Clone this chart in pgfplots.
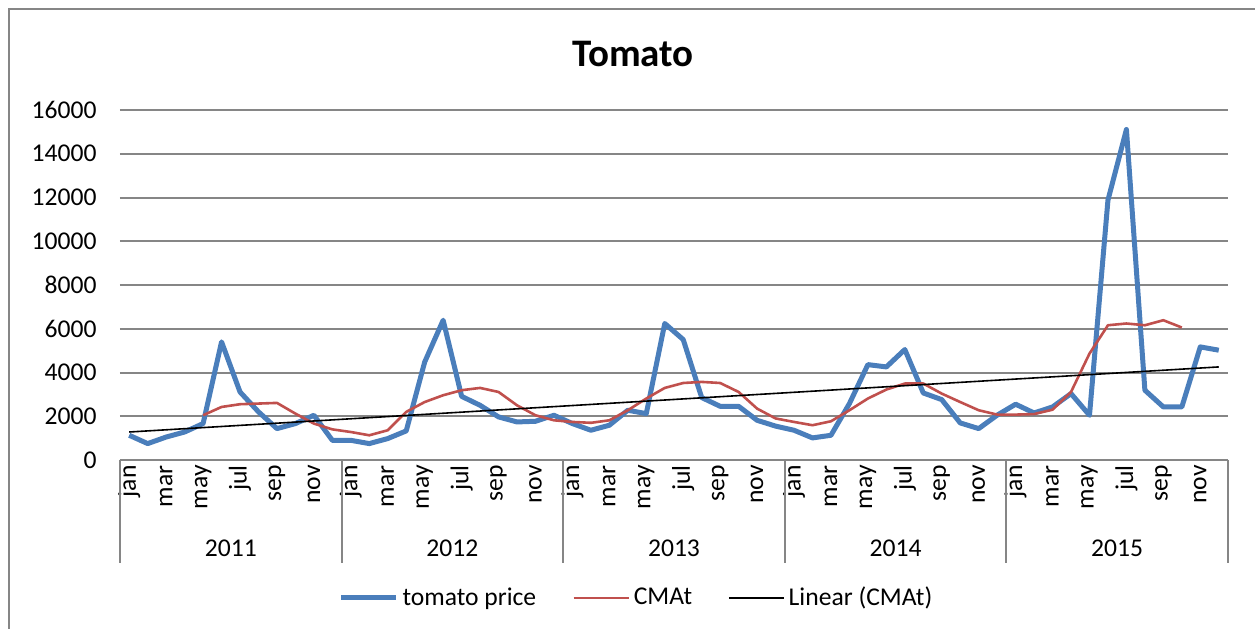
\documentclass[border=0pt]{standalone}
\usepackage{pgfplots}
\pgfplotsset{compat=1.18}
\usepackage{fontspec}
\setmainfont{Carlito}
\definecolor{tblue}{HTML}{4A7EBB}
\definecolor{tred}{HTML}{C0504D}
\definecolor{tgrid}{HTML}{868686}
\newcommand{\axfont}{\fontsize{12.8pt}{15pt}\selectfont}
\begin{document}
\begin{tikzpicture}
\useasboundingbox (0,0) rectangle (627.5pt,314pt);
\draw[tgrid, line width=1pt] (4.5pt,-2pt) -- (4.5pt,309.5pt) -- (630pt,309.5pt);
\node[anchor=base, font=\fontsize{19.5pt}{22pt}\selectfont\bfseries] at (316.5pt,280.6pt) {Tomato};
\begin{axis}[
  at={(60pt,84pt)}, anchor=south west,
  width=554pt, height=175pt, scale only axis,
  xmin=-0.5, xmax=59.5, ymin=0, ymax=16000,
  ytick={0,2000,...,16000},
  scaled y ticks=false,
  xtick={0,2,...,58},
  xticklabels={jan,mar,may,jul,sep,nov,jan,mar,may,jul,sep,nov,jan,mar,may,jul,sep,nov,jan,mar,may,jul,sep,nov,jan,mar,may,jul,sep,nov},
  axis x line*=bottom, axis y line*=left,
  x axis line style={-, tgrid, line width=1pt},
  y axis line style={draw=none},
  major tick length=0pt,
  tick style={draw=none},
  ymajorgrids, grid style={tgrid, line width=1pt},
  /pgf/number format/assume math mode=true,
  /pgf/number format/1000 sep={},
  /pgf/number format/fixed,
  ticklabel style={font=\axfont},
  yticklabel style={anchor=east, inner sep=0pt, xshift=-11.5pt},
  xticklabel style={yshift=-2.5pt, rotate=90, anchor=east, inner sep=0pt},
  clip=false,
  legend columns=3,
  legend style={at={(0.467,-0.394)}, anchor=center, draw=none, font=\axfont,
    /tikz/every even column/.append style={column sep=16pt}},
  legend image code/.code={\draw[#1] (0pt,0pt) -- (27.5pt,0pt);},
]
\addplot[tblue, line width=2.5pt, line join=round] coordinates {
(0,1130)(1,750)(2,1050)(3,1280)(4,1665)(5,5400)(6,3110)(7,2200)(8,1435)(9,1665)(10,2045)(11,900)
(12,900)(13,750)(14,980)(15,1330)(16,4480)(17,6390)(18,2910)(19,2500)(20,1970)(21,1740)(22,1770)(23,2045)
(24,1665)(25,1360)(26,1590)(27,2275)(28,2120)(29,6240)(30,5505)(31,2855)(32,2455)(33,2455)(34,1815)(35,1550)
(36,1360)(37,1010)(38,1130)(39,2580)(40,4360)(41,4255)(42,5050)(43,3065)(44,2760)(45,1695)(46,1435)(47,2050)
(48,2550)(49,2150)(50,2425)(51,3035)(52,2045)(53,11880)(54,15110)(55,3190)(56,2425)(57,2425)(58,5170)(59,5020)
};
\addlegendentry{tomato price}
\addplot[tred, line width=1.3pt, line join=round] coordinates {
(4,2045)(5,2425)(6,2550)(7,2580)(8,2610)(9,2120)(10,1665)(11,1400)
(12,1280)(13,1130)(14,1360)(15,2200)(16,2650)(17,2960)(18,3190)(19,3295)(20,3110)(21,2500)(22,2045)(23,1815)
(24,1740)(25,1700)(26,1815)(27,2275)(28,2810)(29,3295)(30,3520)(31,3570)(32,3520)(33,3110)(34,2350)(35,1900)
(36,1740)(37,1590)(38,1770)(39,2275)(40,2810)(41,3220)(42,3495)(43,3495)(44,3035)(45,2650)(46,2275)(47,2075)
(48,2075)(49,2100)(50,2300)(51,3110)(52,4865)(53,6160)(54,6240)(55,6160)(56,6390)(57,6055)
};
\addlegendentry{CMAt}
\addplot[black, line width=0.8pt] coordinates {(0,1280)(59,4255)};
\addlegendentry{Linear (CMAt)}
\foreach \k in {-0.5,11.5,23.5,35.5,47.5,59.5} {
  \edef\temp{\noexpand\draw[tgrid, line width=1pt] (axis cs:\k,0) -- ([yshift=-51.5pt]axis cs:\k,0);}
  \temp
}
\foreach \c/\yr in {5.5/2011,17.5/2012,29.5/2013,41.5/2014,53.5/2015} {
  \edef\temp{\noexpand\node[anchor=base, font=\noexpand\axfont, yshift=-48.3pt] at (axis cs:\c,0) {\yr};}
  \temp
}
\end{axis}
\end{tikzpicture}
\end{document}
